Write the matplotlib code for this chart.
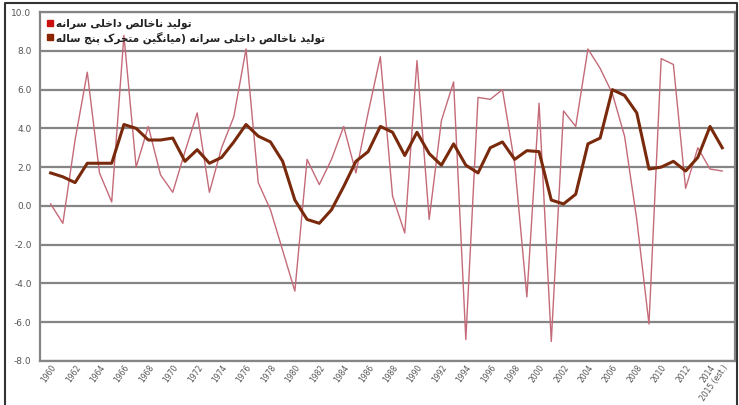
import matplotlib
matplotlib.use("Agg")
import matplotlib.pyplot as plt
from matplotlib.lines import Line2D

# داده‌ها (خوانده شده از تصویر)
years = list(range(1960, 2016))
gdp_pc = [0.1, -0.9, 3.4, 6.9, 1.7, 0.2, 8.8, 2.0, 4.1, 1.6,
          0.7, 2.8, 4.8, 0.7, 3.0, 4.6, 8.1, 1.2, -0.2, -2.3,
          -4.4, 2.4, 1.1, 2.4, 4.1, 1.7, 4.8, 7.7, 0.5, -1.4,
          7.5, -0.7, 4.4, 6.4, -6.9, 5.6, 5.5, 6.0, 2.2, -4.7,
          5.3, -7.0, 4.9, 4.1, 8.1, 7.1, 5.8, 3.6, -0.7, -6.1,
          7.6, 7.3, 0.9, 3.0, 1.9, 1.8]
gdp_pc_ma5 = [1.7, 1.5, 1.2, 2.2, 2.2, 2.2, 4.2, 4.0, 3.4, 3.4,
              3.5, 2.3, 2.9, 2.2, 2.5, 3.3, 4.2, 3.6, 3.3, 2.3,
              0.3, -0.7, -0.9, -0.2, 1.0, 2.3, 2.8, 4.1, 3.8, 2.6,
              3.8, 2.7, 2.1, 3.2, 2.1, 1.7, 3.0, 3.3, 2.4, 2.85,
              2.8, 0.3, 0.1, 0.6, 3.2, 3.5, 6.0, 5.7, 4.8, 1.9,
              2.0, 2.3, 1.8, 2.5, 4.1, 3.0]
tick_years = list(range(1960, 2015, 2)) + [2015]
tick_labels = [str(y) for y in range(1960, 2015, 2)] + ["2015 (est.)"]
label_1 = "تولید ناخالص داخلی سرانه"
label_2 = "تولید ناخالص داخلی سرانه (میانگین متحرک پنج ساله"

# شکل‌دهی ساده حروف فارسی (matplotlib اتصال حروف را انجام نمی‌دهد)
FORMS = {
    "\u062A": (0xFE95, 0xFE96, 0xFE97, 0xFE98),  # ت
    "\u0648": (0xFEED, 0xFEEE, None, None),      # و
    "\u0644": (0xFEDD, 0xFEDE, 0xFEDF, 0xFEE0),  # ل
    "\u06CC": (0xFBFC, 0xFBFD, 0xFBFE, 0xFBFF),  # ی
    "\u062F": (0xFEA9, 0xFEAA, None, None),      # د
    "\u0646": (0xFEE5, 0xFEE6, 0xFEE7, 0xFEE8),  # ن
    "\u0627": (0xFE8D, 0xFE8E, None, None),      # ا
    "\u062E": (0xFEA5, 0xFEA6, 0xFEA7, 0xFEA8),  # خ
    "\u0635": (0xFEB9, 0xFEBA, 0xFEBB, 0xFEBC),  # ص
    "\u0633": (0xFEB1, 0xFEB2, 0xFEB3, 0xFEB4),  # س
    "\u0631": (0xFEAD, 0xFEAE, None, None),      # ر
    "\u0647": (0xFEE9, 0xFEEA, 0xFEEB, 0xFEEC),  # ه
    "\u0645": (0xFEE1, 0xFEE2, 0xFEE3, 0xFEE4),  # م
    "\u06AF": (0xFB92, 0xFB93, 0xFB94, 0xFB95),  # گ
    "\u062D": (0xFEA1, 0xFEA2, 0xFEA3, 0xFEA4),  # ح
    "\u06A9": (0xFB8E, 0xFB8F, 0xFB90, 0xFB91),  # ک
    "\u067E": (0xFB56, 0xFB57, 0xFB58, 0xFB59),  # پ
    "\u062C": (0xFE9D, 0xFE9E, 0xFE9F, 0xFEA0),  # ج
}
MIRROR = {"(": ")", ")": "("}


def shape_fa(text):
    out = []
    n = len(text)
    for i, ch in enumerate(text):
        f = FORMS.get(ch)
        if f is None:
            out.append(MIRROR.get(ch, ch))
            continue
        prev = FORMS.get(text[i - 1]) if i > 0 else None
        nxt = FORMS.get(text[i + 1]) if i < n - 1 else None
        join_prev = prev is not None and prev[2] is not None
        join_next = nxt is not None and f[2] is not None
        if join_prev and join_next:
            code = f[3]
        elif join_prev:
            code = f[1]
        elif join_next:
            code = f[2]
        else:
            code = f[0]
        out.append(chr(code))
    return "".join(out)[::-1]


fig = plt.figure(figsize=(7.39, 4.05), dpi=100)
ax = fig.add_axes([0.054, 0.109, 0.941, 0.861])

ax.plot(years, gdp_pc, color="#c46a78", lw=1.0, zorder=3)
ax.plot(years, gdp_pc_ma5, color="#7a2a0c", lw=2.2, zorder=4)

ax.set_xlim(1959.12, 2016.07)
ax.set_ylim(-8, 10)
ax.set_yticks(range(-8, 11, 2))
ax.set_yticklabels([f"{v:.1f}" for v in range(-8, 11, 2)])
ax.set_xticks(tick_years)
ax.set_xticklabels(tick_labels, rotation=55, ha="right", rotation_mode="anchor")
ax.tick_params(axis="both", length=0, colors="#555555", labelsize=6.5)
ax.tick_params(axis="y", pad=6)
ax.tick_params(axis="x", pad=1.5, labelsize=5.5)
ax.yaxis.grid(True, color="#858585", lw=1.6)
ax.set_axisbelow(True)
for s in ax.spines.values():
    s.set_color("#858585")
    s.set_linewidth(1.6)

handles = [
    Line2D([], [], marker="s", ls="none", color="#cc1111", markersize=5),
    Line2D([], [], marker="s", ls="none", color="#8b2500", markersize=5),
]
leg = ax.legend(handles, [shape_fa(label_1), shape_fa(label_2)],
                loc="upper left", frameon=False, handlelength=0.6,
                handletextpad=0.25, labelspacing=0.15, borderaxespad=0.25,
                prop={"family": "DejaVu Sans", "weight": "bold", "size": 7.6})
for t in leg.get_texts():
    t.set_color("#222222")

# قاب بیرونی تصویر (چپ، بالا، راست)
fig.add_artist(Line2D([0.007, 0.007, 0.997, 0.997], [0.0, 0.992, 0.992, 0.0],
                      transform=fig.transFigure, color="#333333", lw=1.5))

plt.savefig("out.png", dpi=100)
